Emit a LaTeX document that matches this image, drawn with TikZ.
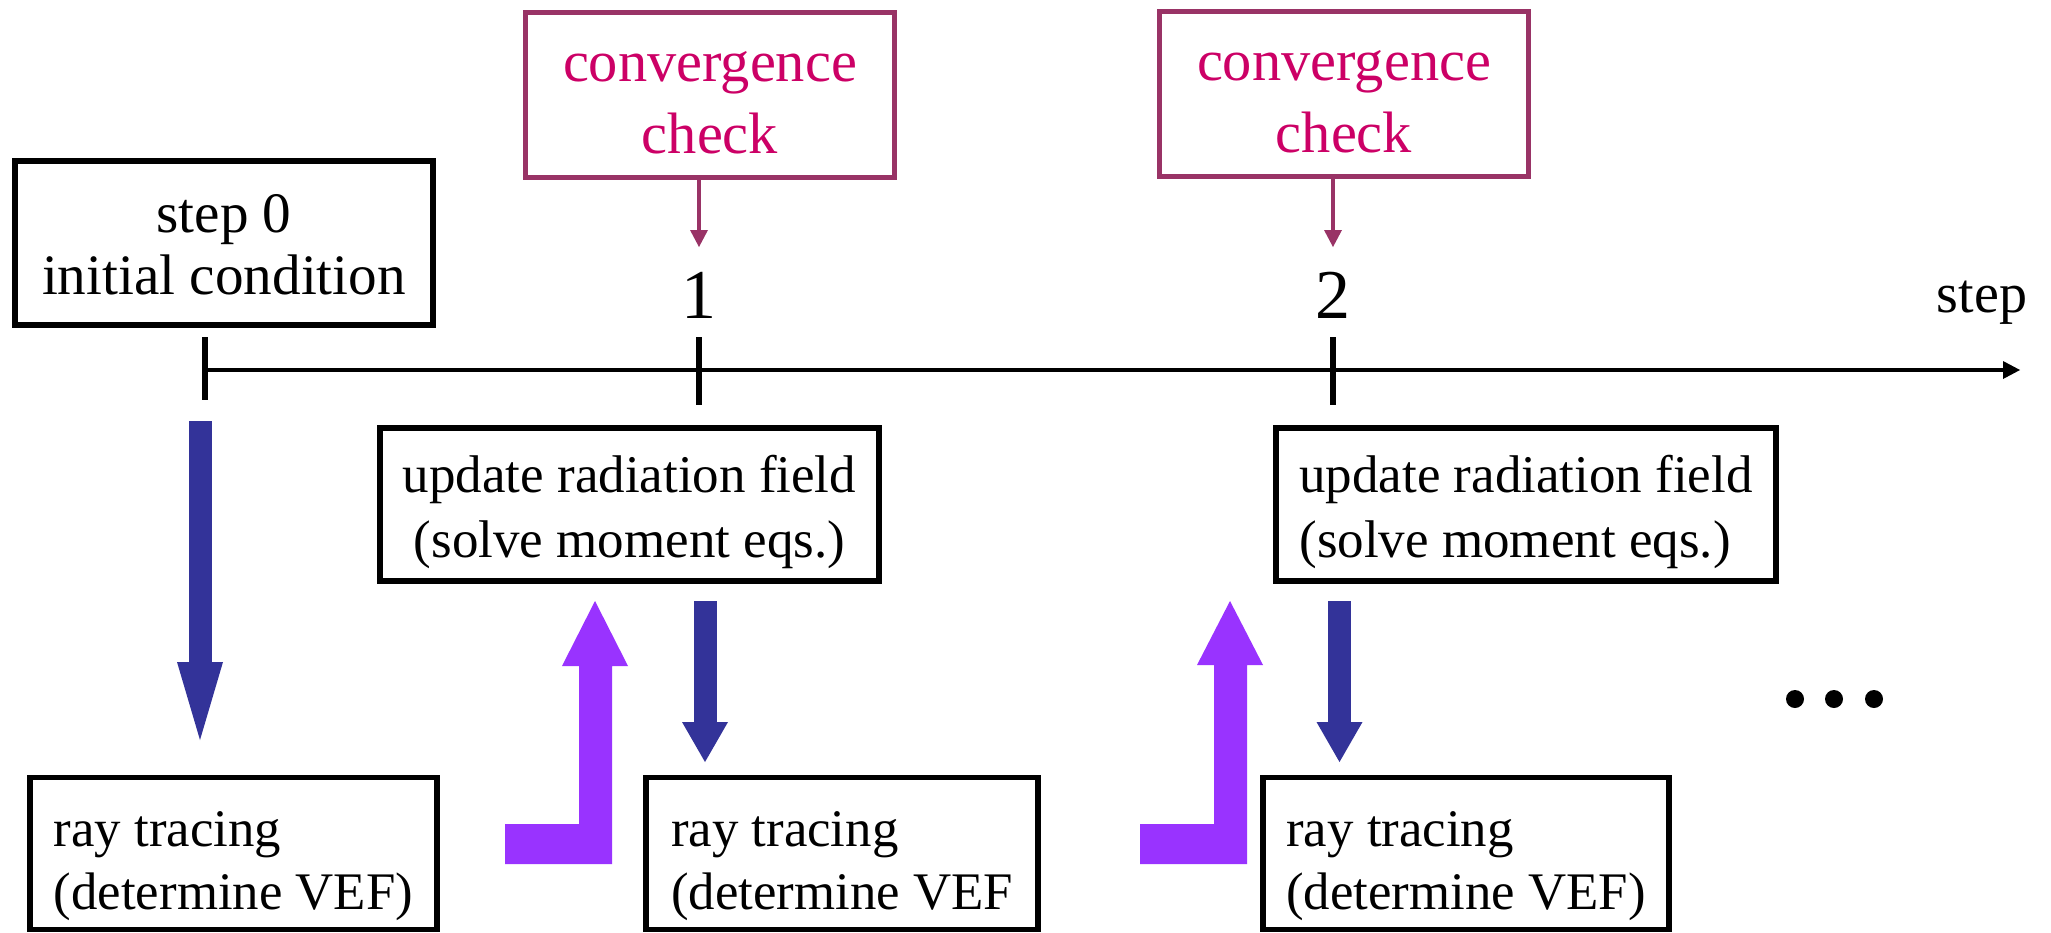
\documentclass[tikz,border=0pt]{standalone}
\usepackage{fontspec}
\setmainfont{Liberation Serif}
\usetikzlibrary{arrows.meta}
\definecolor{convborder}{HTML}{993366}
\definecolor{convtext}{HTML}{CC0066}
\definecolor{bluearr}{HTML}{333399}
\definecolor{purplearr}{HTML}{9933FF}
\begin{document}
\begin{tikzpicture}[x=0.5pt,y=-0.5pt,
  frame/.style={draw=black, line width=2.8pt, inner sep=0pt},
  cframe/.style={draw=convborder, line width=2.6pt, inner sep=0pt,
    minimum width=184.5pt, minimum height=82.5pt},
  lbl/.style={inner sep=0pt, align=center, font=\fontsize{26.5}{32.5}\selectfont},
  raylbl/.style={inner sep=0pt, align=left, font=\fontsize{26.4}{31.5}\selectfont},
  clbl/.style={inner sep=0pt, align=center, text=convtext, font=\fontsize{29.2}{36}\selectfont},
  convarrow/.style={draw=convborder, line width=2.2pt,
    -{Triangle[length=8.5pt,width=9pt,line width=0pt]}},
  bluearrow/.style={draw=bluearr, line width=11.5pt},
  tickline/.style={line width=3pt},
  numlbl/.style={inner sep=0pt, anchor=base, font=\fontsize{35}{40}\selectfont},
  blockarrow/.style={fill=purplearr}
]
\useasboundingbox (0,0) rectangle (2051,932);
\fill[white] (0,0) rectangle (2051,932);

% axis
\coordinate (ax0) at (205,370);
\coordinate (axend) at (2020,370);
\draw[line width=2.4pt, -{Triangle[length=8.5pt,width=9pt,line width=0pt]}] (ax0) -- (axend);
\draw[tickline] (205,337) -- (205,400);
\draw[tickline] (699,337) -- (699,405);
\draw[tickline] (1333,337) -- (1333,405);
\node[numlbl] (n1) at (699,318) {1};
\node[numlbl] (n2) at (1333,318) {2};
\node[inner sep=0pt, anchor=base, font=\fontsize{28}{32}\selectfont] (steplbl) at (1982,312) {step};

% step 0 box
\node[frame, minimum width=209pt, minimum height=82pt] (s0) at (224,243) {};
\node[lbl, font=\fontsize{28.6}{31}\selectfont] (s0t) at ([yshift=-1pt]s0.center) {step 0\\initial condition};

% convergence boxes
\node[cframe] (cv1) at (710,95) {};
\node[clbl] (cv1t) at ([yshift=-3.9pt]cv1.center) {convergence\\check};
\node[cframe] (cv2) at (1344,94) {};
\node[clbl] (cv2t) at ([yshift=-3.9pt]cv2.center) {convergence\\check};
\coordinate (c1tip) at (699,247);
\coordinate (c2tip) at (1333,247);
\draw[convarrow] (cv1.south -| c1tip) -- (c1tip);
\draw[convarrow] (cv2.south -| c2tip) -- (c2tip);

% update boxes
\node[frame, minimum width=249.5pt, minimum height=76.5pt] (u1) at (629.5,504.5) {};
\node[lbl] (u1t) at ([yshift=-3.8pt]u1.center) {update radiation field\\(solve moment eqs.)};
\node[frame, minimum width=250pt, minimum height=76.5pt] (u2) at (1526,504.5) {};
\node[lbl, align=left] (u2t) at ([yshift=-3.8pt]u2.center) {update radiation field\\(solve moment eqs.)};

% ray tracing boxes
\node[frame, minimum width=203.5pt, minimum height=76pt] (r1) at (233.5,853.5) {};
\node[raylbl] (r1t) at ([yshift=-6.2pt]r1.center) {ray tracing\\(determine VEF)};
\node[frame, minimum width=196pt, minimum height=76pt] (r2) at (842,853.5) {};
\node[raylbl] (r2t) at ([yshift=-6.2pt]r2.center) {ray tracing\\(determine VEF};
\node[frame, minimum width=203pt, minimum height=76pt] (r3) at (1466,853.5) {};
\node[raylbl] (r3t) at ([yshift=-6.2pt]r3.center) {ray tracing\\(determine VEF)};

% blue arrows
\coordinate (b0s) at (200,421);   \coordinate (b0e) at (200,740);
\coordinate (b1s) at (705,601);   \coordinate (b1e) at (705,762);
\coordinate (b2s) at (1339.5,601); \coordinate (b2e) at (1339.5,762);
\draw[bluearrow, -{Triangle[length=39pt,width=23pt,line width=0pt]}] (b0s) -- (b0e);
\draw[bluearrow, -{Triangle[length=20pt,width=23pt,line width=0pt]}] (b1s) -- (b1e);
\draw[bluearrow, -{Triangle[length=20pt,width=23pt,line width=0pt]}] (b2s) -- (b2e);

% purple L arrows
\fill[blockarrow] (505,824) -- (579,824) -- (579,666) -- (562,666) -- (595,601)
  -- (628,666) -- (612,666) -- (612,864) -- (505,864) -- cycle;
\fill[blockarrow] (1140,824) -- (1214,824) -- (1214,665) -- (1197,665) -- (1230,601)
  -- (1263,665) -- (1247,665) -- (1247,864) -- (1140,864) -- cycle;

% dots
\fill (1795,699) circle (4.5pt);
\fill (1834,699) circle (4.5pt);
\fill (1874,699) circle (4.5pt);
\end{tikzpicture}
\end{document}
